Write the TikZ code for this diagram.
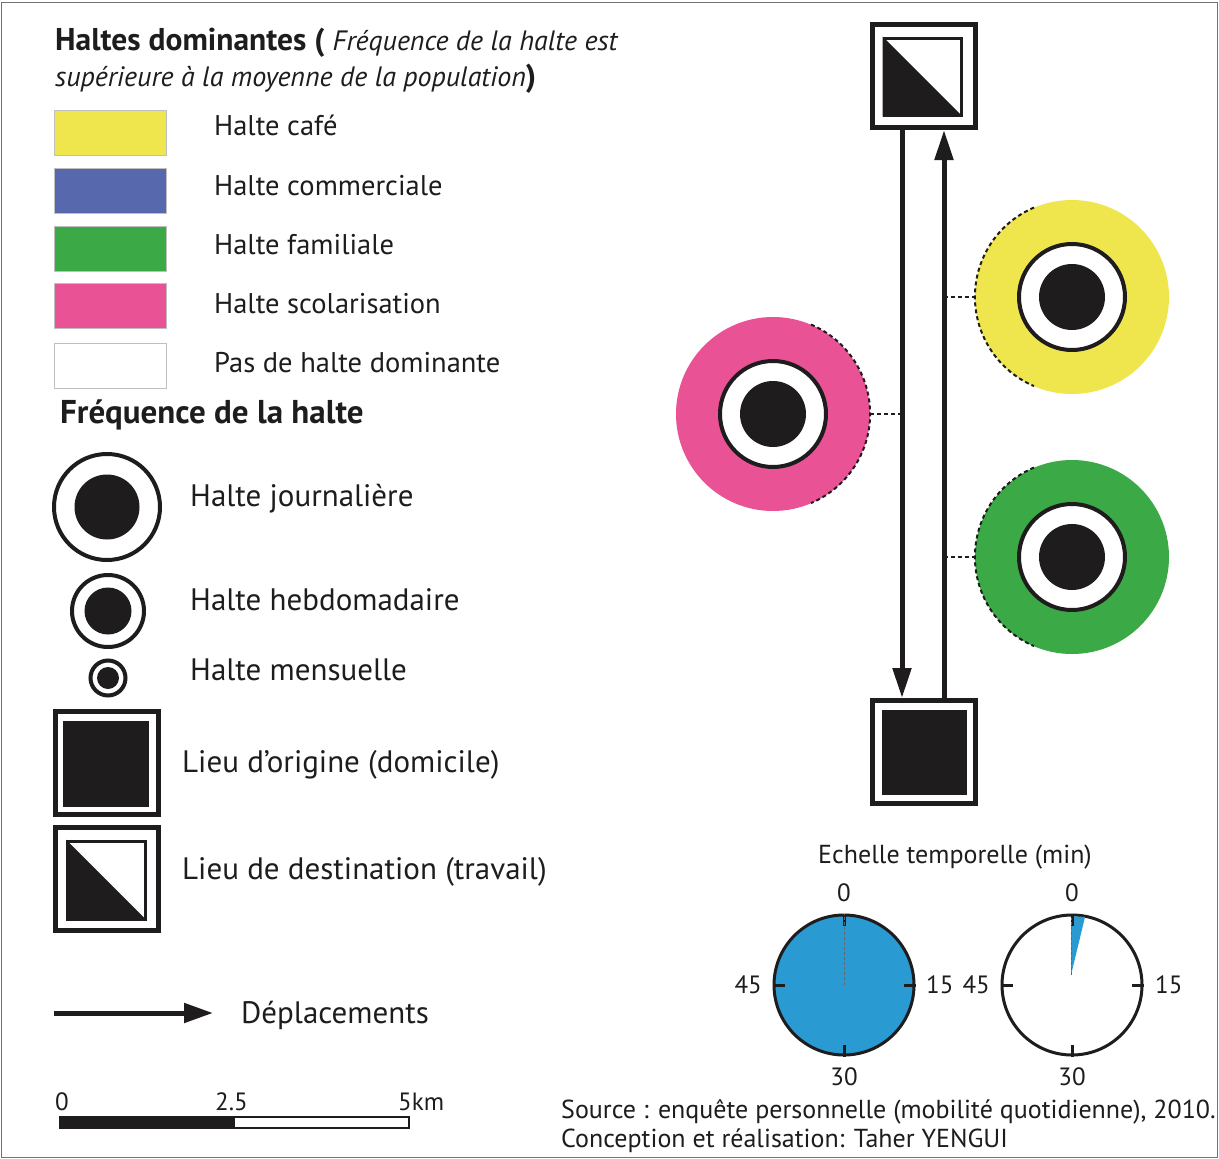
\documentclass[tikz,border=0pt]{standalone}
\usepackage{fontspec}
\setmainfont{PT Sans}
\usetikzlibrary{arrows.meta}
\definecolor{cyel}{RGB}{238,230,76}
\definecolor{cblue}{RGB}{88,104,172}
\definecolor{cgreen}{RGB}{59,170,70}
\definecolor{cpink}{RGB}{234,82,150}
\definecolor{cclock}{RGB}{42,154,210}
\definecolor{ctext}{RGB}{30,28,29}
\tikzset{
 lbl/.style={anchor=base west, inner sep=0pt, text=ctext, font=\fontsize{28.5}{33}\selectfont},
 lbl2/.style={anchor=base west, inner sep=0pt, text=ctext, font=\fontsize{31}{36}\selectfont},
 hdr/.style={anchor=base west, inner sep=0pt, text=ctext, font=\fontsize{31.5}{36}\selectfont\bfseries},
 small/.style={inner sep=0pt, text=ctext, font=\fontsize{26}{30}\selectfont},
 num/.style={inner sep=0pt, text=ctext, font=\fontsize{25}{30}\selectfont},
 swatch/.style={draw=black!25, line width=1pt, minimum width=112pt, minimum height=45pt, inner sep=0pt},
 stopbg/.style={circle, minimum size=194pt, inner sep=0pt},
 ring/.style={circle, draw=ctext, fill=white, line width=4pt, inner sep=0pt},
 dot/.style={circle, fill=ctext, inner sep=0pt},
 sqbox/.style={draw=ctext, fill=white, line width=5pt, minimum size=103pt, inner sep=0pt},
 mv/.style={draw=ctext, line width=5pt, -{Triangle[length=30pt,width=18pt]}},
 link/.style={draw=ctext, line width=2pt, dash pattern=on 4pt off 3pt},
 clock/.style={circle, draw=ctext, line width=3pt, minimum size=140pt, inner sep=0pt},
 tick/.style={draw=ctext, line width=3pt},
}
\begin{document}
\begin{tikzpicture}[x=1pt,y=-1pt]
\useasboundingbox (0,0) rectangle (1219,1159);
\fill[white] (0,0) rectangle (1219,1159);
\draw[black!55, line width=1pt] (1,2) rectangle (1217,1157);

% ---------- legend: dominant stops ----------
\node[hdr] (t1) at (55,50) {Haltes dominantes ( {\mdseries\itshape\fontsize{28}{32}\selectfont Fréquence de la halte est}};
\node[anchor=base west, inner sep=0pt, text=ctext] (t2) at (55,86) {{\itshape\fontsize{28}{32}\selectfont supérieure à la moyenne de la population}{\fontsize{31.5}{36}\selectfont\bfseries )}};

\node[swatch, fill=cyel] (sw1) at (110,133) {};
\node[swatch, fill=cblue] (sw2) at (110,190.5) {};
\node[swatch, fill=cgreen] (sw3) at (110,248.5) {};
\node[swatch, fill=cpink] (sw4) at (110,306) {};
\node[swatch, fill=white] (sw5) at (110,365.5) {};
\node[lbl] (l1) at (214,135) {Halte café};
\node[lbl] (l2) at (214,195) {Halte commerciale};
\node[lbl] (l3) at (214,254) {Halte familiale};
\node[lbl] (l4) at (214,313) {Halte scolarisation};
\node[lbl] (l5) at (214,372) {Pas de halte dominante};

% ---------- legend: frequency ----------
\node[hdr, font=\fontsize{33}{38}\selectfont\bfseries] (t3) at (60,423) {Fréquence de la halte};
\node[ring, minimum size=106pt] (fj) at (107,507) {};
\node[dot, minimum size=65pt] (fjd) at (fj) {};
\node[lbl2] (l6) at (190,506) {Halte journalière};
\node[ring, minimum size=72pt] (fh) at (108,611) {};
\node[dot, minimum size=47pt] (fhd) at (fh) {};
\node[lbl2] (l7) at (190,610) {Halte hebdomadaire};
\node[ring, minimum size=35pt] (fm) at (108,678) {};
\node[dot, minimum size=22pt] (fmd) at (fm) {};
\node[lbl2] (l8) at (190,680) {Halte mensuelle};

\node[sqbox] (lo) at (106.5,763) {};
\node[fill=ctext, minimum size=86pt, inner sep=0pt] (loi) at (106,763.5) {};
\node[lbl2] (l9) at (182,772) {Lieu d’origine (domicile)};
\node[sqbox] (ld) at (106.5,878.5) {};
\node[draw=ctext, fill=white, line width=3pt, minimum size=78pt, inner sep=0pt] (ldi) at (106.5,880) {};
\fill[ctext] (ldi.north west) -- (ldi.south east) -- (ldi.south west) -- cycle;
\node[lbl2] (l10) at (182,879) {Lieu de destination (travail)};

\coordinate (la) at (54,1013);
\coordinate (lb) at (213,1013);
\draw[draw=ctext, line width=5pt, -{Triangle[length=29pt,width=19pt]}] (la) -- (lb);
\node[lbl2] (l11) at (241,1023) {Déplacements};

% scale bar
\fill[ctext] (60,1117) rectangle (235,1128);
\draw[ctext, line width=1.5pt] (60,1117) rectangle (409,1128);
\node[num, anchor=base west] (s0) at (55,1110) {0};
\node[num, anchor=base west] (s1) at (215,1110) {2.5};
\node[num, anchor=base west] (s2) at (398,1110) {5km};

% ---------- main diagram ----------
\node[sqbox] (dest) at (924,76) {};
\node[draw=ctext, fill=white, line width=3pt, minimum size=77pt, inner sep=0pt] (desti) at (922.5,76.5) {};
\fill[ctext] (desti.north west) -- (desti.south east) -- (desti.south west) -- cycle;
\node[sqbox] (orig) at (924,752) {};
\node[fill=ctext, minimum size=85pt, inner sep=0pt] (origi) at (924,752) {};

\draw[mv] ([xshift=-22pt]dest.south) -- ([xshift=-22pt]orig.north);
\draw[mv] ([xshift=20pt]orig.north) -- ([xshift=20pt]dest.south);

% stops
\node[stopbg, fill=cyel] (sy) at (1072,297) {};
\node[ring, minimum size=106pt] (syr) at (sy) {};
\node[dot, minimum size=66pt] (syd) at (sy) {};
\draw[link] (sy.113) arc[start angle=-113, end angle=-247, radius=97];
\coordinate (ay) at (944,297);
\draw[link] (ay) -- (sy.west);

\node[stopbg, fill=cpink] (sp) at (773,414) {};
\node[ring, minimum size=106pt] (spr) at (sp) {};
\node[dot, minimum size=66pt] (spd) at (sp) {};
\draw[link] (sp.67) arc[start angle=-67, end angle=67, radius=97];
\coordinate (ap) at (902,414);
\draw[link] (sp.east) -- (ap);

\node[stopbg, fill=cgreen] (sg) at (1072,557) {};
\node[ring, minimum size=106pt] (sgr) at (sg) {};
\node[dot, minimum size=66pt] (sgd) at (sg) {};
\draw[link] (sg.113) arc[start angle=-113, end angle=-247, radius=97];
\coordinate (ag) at (944,557);
\draw[link] (ag) -- (sg.west);

% ---------- clocks ----------
\node[small, anchor=base] (ct) at (955,863) {Echelle temporelle (min)};
\node[clock, fill=cclock] (c1) at (844,985) {};
\draw[tick] (c1.north) -- ++(0,12);
\draw[tick] (c1.south) -- ++(0,-12);
\draw[tick] (c1.east) -- ++(-12,0);
\draw[tick] (c1.west) -- ++(12,0);
\draw[black!60, line width=1pt, dash pattern=on 3pt off 2pt] (c1.center) -- (c1.north);
\node[num, anchor=base] (c1a) at (844,901) {0};
\node[num, anchor=base west] (c1b) at (926,993) {15};
\node[num, anchor=base] (c1c) at (844,1085) {30};
\node[num, anchor=base east] (c1d) at (762,993) {45};

\node[clock, fill=white] (c2) at (1072,985) {};
\fill[cclock] (1071,975) -- (1071,916) -- (1085,917) -- cycle;
\draw[tick] (c2.north) -- ++(0,12);
\draw[tick] (c2.south) -- ++(0,-12);
\draw[tick] (c2.east) -- ++(-12,0);
\draw[tick] (c2.west) -- ++(12,0);
\draw[black!60, line width=1pt, dash pattern=on 3pt off 2pt] (1071,975) -- (1071,918);
\node[num, anchor=base] (c2a) at (1072,901) {0};
\node[num, anchor=base west] (c2b) at (1155,993) {15};
\node[num, anchor=base] (c2c) at (1072,1085) {30};
\node[num, anchor=base east] (c2d) at (990,993) {45};

% source
\node[small, anchor=base west] (src1) at (561,1118) {Source : enquête personnelle (mobilité quotidienne), 2010.};
\node[small, anchor=base west] (src2) at (561,1147) {Conception et réalisation: Taher YENGUI};
\end{tikzpicture}
\end{document}
